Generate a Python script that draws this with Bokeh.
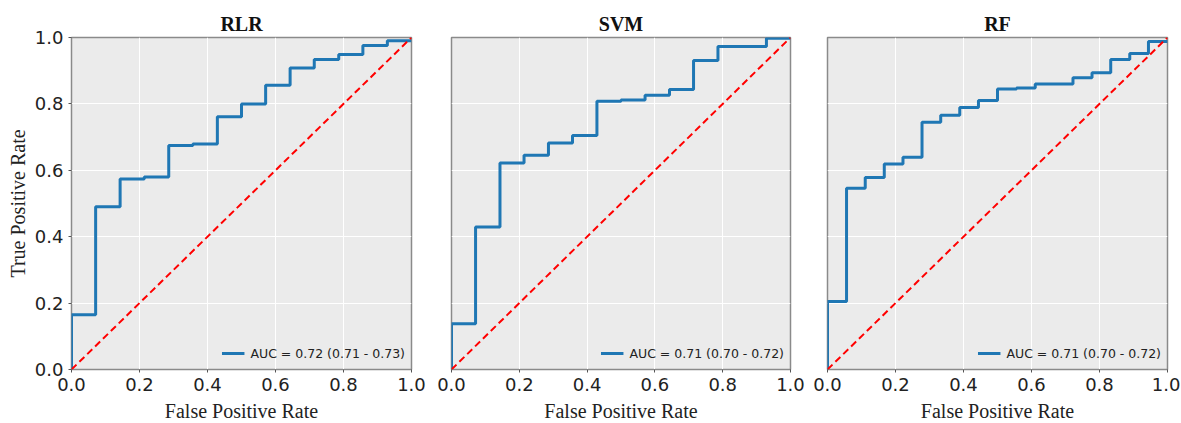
from bokeh.plotting import figure
from bokeh.layouts import row
from bokeh.models import Range1d, FixedTicker, PrintfTickFormatter, Legend, LegendItem
from bokeh.embed import file_html
from bokeh.resources import INLINE

# ---------------- data ----------------
titles = ["RLR", "SVM", "RF"]
auc_labels = ["AUC = 0.72 (0.71 - 0.73)", "AUC = 0.71 (0.70 - 0.72)", "AUC = 0.71 (0.70 - 0.72)"]

rlr_fpr = [0.0, 0.071, 0.143, 0.214, 0.286, 0.357, 0.429, 0.5, 0.571, 0.643, 0.714, 0.786, 0.857, 0.929, 1.0]
rlr_tpr = [0.165, 0.49, 0.574, 0.58, 0.675, 0.679, 0.761, 0.80, 0.856, 0.908, 0.934, 0.949, 0.976, 0.99, 0.99]

svm_fpr = [0.0, 0.071, 0.143, 0.214, 0.286, 0.357, 0.429, 0.5, 0.571, 0.643, 0.714, 0.786, 0.929, 1.0]
svm_tpr = [0.138, 0.429, 0.622, 0.645, 0.682, 0.705, 0.808, 0.812, 0.826, 0.843, 0.931, 0.973, 0.998, 0.998]

rf_fpr = [0.0, 0.056, 0.111, 0.167, 0.222, 0.278, 0.333, 0.389, 0.444, 0.5, 0.556, 0.611, 0.722, 0.778, 0.833, 0.889, 0.944, 1.0]
rf_tpr = [0.205, 0.546, 0.578, 0.619, 0.639, 0.745, 0.766, 0.789, 0.81, 0.845, 0.848, 0.86, 0.879, 0.894, 0.934, 0.952, 0.988, 0.988]

chance_x = [0.0, 1.0]
chance_y = [0.0, 1.0]

ticks = [0.0, 0.2, 0.4, 0.6, 0.8, 1.0]

series = [(rlr_fpr, rlr_tpr), (svm_fpr, svm_tpr), (rf_fpr, rf_tpr)]


def step_vertices(fpr, tpr):
    xs, ys = [fpr[0]], [0.0]
    for i in range(len(fpr)):
        xs.append(fpr[i]); ys.append(tpr[i])
        if i + 1 < len(fpr):
            xs.append(fpr[i + 1]); ys.append(tpr[i])
    return xs, ys


borders = [(71, 19), (21, 18), (19, 13)]
frame_w = [340, 339, 340]
figs = []
for k in range(3):
    p = figure(frame_width=frame_w[k], frame_height=332, output_backend="svg", toolbar_location=None,
               x_range=Range1d(0, 1), y_range=Range1d(0, 1),
               min_border_left=borders[k][0], min_border_right=borders[k][1],
               min_border_top=37, min_border_bottom=5, title=titles[k])
    p.title.align = "center"
    p.title.text_font = "Liberation Serif"
    p.title.text_font_style = "bold"
    p.title.text_font_size = "20px"
    p.title.text_color = "#111111"
    p.title.standoff = 5
    p.background_fill_color = "#EBEBEB"
    p.border_fill_color = "white"
    p.outline_line_color = "#8a8a8a"
    p.outline_line_width = 1.5
    p.grid.grid_line_color = "white"
    p.grid.grid_line_width = 1

    for ax in (p.xaxis[0], p.yaxis[0]):
        ax.ticker = FixedTicker(ticks=ticks)
        ax.formatter = PrintfTickFormatter(format="%.1f")
        ax.axis_line_color = None
        ax.major_tick_line_color = "#555555"
        ax.major_tick_out = 3
        ax.major_tick_in = 0
        ax.minor_tick_line_color = None
        ax.major_label_text_font = "DejaVu Sans"
        ax.major_label_text_font_size = "18px"
        ax.major_label_text_color = "#222222"
        ax.major_label_standoff = 5
        ax.axis_label_text_font = "Liberation Serif"
        ax.axis_label_text_font_style = "normal"
        ax.axis_label_text_font_size = "20px"
        ax.axis_label_text_color = "#222222"
    p.xaxis.axis_label_standoff = 6
    p.yaxis.axis_label_standoff = 3
    p.xaxis.axis_label = "False Positive Rate"
    if k == 0:
        p.yaxis.axis_label = "True Positive Rate"
    else:
        p.yaxis.visible = False

    fpr, tpr = series[k]
    xs, ys = step_vertices(fpr, tpr)
    r = p.line(xs, ys, line_color="#1f77b4", line_width=3)
    p.line(chance_x, chance_y, line_color="#ff0000", line_width=2, line_dash="7 4")

    leg = Legend(items=[LegendItem(label=auc_labels[k], renderers=[r])], location="bottom_right")
    leg.background_fill_alpha = 0
    leg.border_line_color = None
    leg.label_text_font = "DejaVu Sans"
    leg.label_text_font_size = "12.5px"
    leg.label_text_color = "#222222"
    leg.glyph_width = 23
    leg.margin = 6
    leg.padding = 4
    leg.label_standoff = 6
    p.add_layout(leg, "center")
    figs.append(p)

layout = row(*figs, spacing=0)
open("out.html", "w").write(file_html(layout, INLINE))
